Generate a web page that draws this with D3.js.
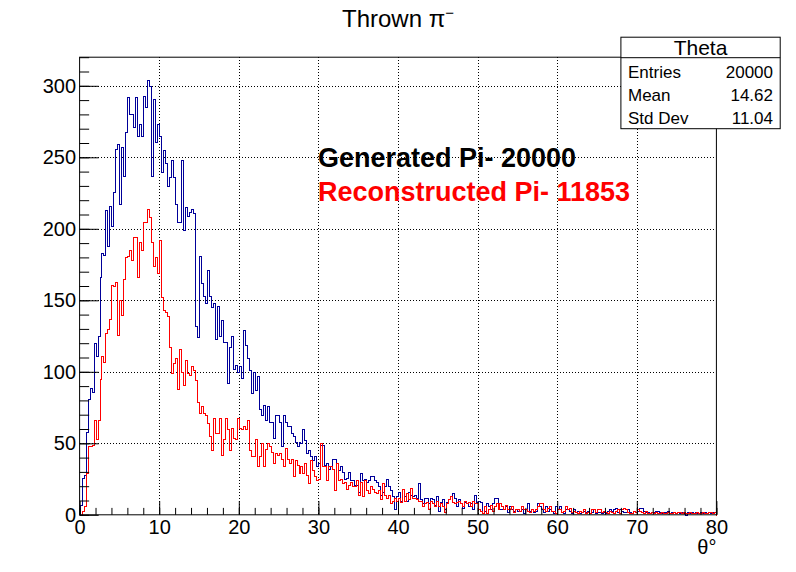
<!DOCTYPE html>
<html>
<head>
<meta charset="utf-8">
<script src="https://cdn.jsdelivr.net/npm/d3@7/dist/d3.min.js"></script>
<style>
  html, body { margin: 0; padding: 0; background: #fff; }
  svg { display: block; font-family: "Liberation Sans", Arial, Helvetica, sans-serif; }
</style>
</head>
<body>
<svg id="chart" width="796" height="572"></svg>
<script>
// ---------------- data ----------------
const thetaRange = [0, 80];
const nBins = 320;
const yRange = [0, 320];

const generated = [
  7, 26, 28, 58, 81, 89, 86, 120, 111, 125, 166, 183, 182, 213, 188, 216, 202, 226, 256, 259, 217, 257, 237, 268, 292, 280, 280, 271, 292, 265,
  273, 265, 293, 285, 304, 300, 237, 291, 261, 273, 265, 240, 255, 246, 230, 236, 248, 236, 217, 205, 205, 248, 199, 215, 209, 212, 214, 211,
  132, 124, 181, 162, 153, 148, 171, 153, 145, 148, 123, 146, 125, 136, 121, 121, 92, 117, 125, 102, 105, 100, 104, 96, 129, 119, 110, 101, 85,
  100, 87, 97, 74, 70, 77, 66, 76, 65, 65, 54, 70, 70, 65, 48, 70, 65, 62, 62, 57, 55, 51, 48, 51, 50, 60, 52, 43, 45, 41, 38, 41, 34, 36, 49, 49, 35, 36, 32,
  34, 39, 39, 36, 31, 34, 30, 25, 26, 30, 24, 24, 21, 21, 16, 29, 24, 25, 23, 24, 27, 27, 24, 23, 20, 14, 16, 20, 25, 20, 17, 13, 4, 13, 16, 10, 18, 13, 10, 16, 14, 13, 14, 12, 22,
  11, 8, 12, 12, 8, 12, 11, 7, 13, 3, 9, 11, 4, 9, 11, 13, 15, 12, 6, 11, 8, 5, 9, 8, 6, 8, 4, 14, 9, 10, 9, 1, 3, 8, 6, 4, 8, 12, 12, 8, 4, 4, 4, 6, 2, 6, 4, 3, 4, 3, 3, 4, 1, 4, 8, 3, 4, 2, 3, 8, 6, 4, 2, 6, 3, 4, 3, 1, 6, 4, 6, 2, 1, 4, 4,
  3, 1, 4, 2, 3, 1, 2, 3, 2, 3, 1, 2, 4, 1, 2, 2, 1, 2, 1, 3, 4, 3, 4, 5, 2, 4, 3, 2, 2, 4, 2, 1, 3, 2, 3, 5, 5, 3, 2, 2, 1, 2, 2, 3, 3, 2, 1, 2, 2, 3, 1, 2, 2, 1, 2, 1, 2, 1, 0, 2, 1, 2, 1, 2, 1, 1, 2, 1, 2, 1, 2, 1, 2, 2
];

const reconstructed = [
  0, 3, 6, 29, 48, 48, 49, 66, 53, 66, 95, 111, 107, 127, 130, 137, 161, 160, 163, 126, 150, 140, 165, 180, 181, 185, 178, 194, 194, 166,
  191, 185, 205, 205, 214, 208, 191, 174, 180, 169, 192, 152, 143, 142, 139, 117, 99, 106, 110, 88, 116, 100, 91, 108, 99, 98, 104,
  101, 94, 79, 71, 76, 71, 70, 64, 55, 45, 68, 57, 57, 68, 42, 53, 68, 60, 45, 61, 54, 53, 68, 61, 60, 62, 60, 66,
  45, 41, 41, 53, 34, 41, 50, 34, 46, 50, 48, 44, 36, 43, 42, 43, 39, 34, 47, 39, 36, 39, 27, 38, 35, 29, 34, 29, 36, 28, 22, 38, 31, 27, 24, 25, 50, 34, 34, 24, 34,
  34, 32, 17, 36, 24, 25, 22, 23, 18, 21, 23, 20, 20, 24, 14, 23, 13, 24, 17, 15, 20, 18, 16, 15, 17, 11, 22, 14, 12, 14, 8, 10, 12, 10, 12, 9, 18, 10, 15, 11, 19, 12, 12, 11, 10,
  10, 6, 8, 9, 4, 10, 8, 6, 10, 6, 8, 6, 2, 8, 11, 13, 9, 8, 9, 10, 8, 6, 10, 8, 9, 6, 10, 8, 8, 4, 3, 1, 6, 1, 4, 7, 3, 6, 8, 4, 8, 6, 4, 7, 4, 4, 6, 2, 4, 4, 3, 6, 4, 4, 3, 2, 4, 3, 4, 6, 8, 8, 4, 3, 5, 6, 3, 3, 1, 4, 4, 2, 3, 6, 4,
  5, 2, 3, 2, 1, 3, 2, 4, 1, 2, 1, 4, 4, 2, 4, 4, 2, 3, 2, 1, 3, 2, 1, 3, 4, 1, 4, 5, 4, 2, 1, 1, 3, 2, 4, 3, 2, 1, 3, 1, 1, 2, 1, 2, 1, 1, 2, 1, 1, 2, 1, 1, 2, 1, 2, 2, 1, 2, 1, 1, 2, 1, 1, 1, 2, 1, 1, 2, 1, 1, 2, 2, 1, 2
];

const xMajorTicks = [0, 10, 20, 30, 40, 50, 60, 70, 80];
const xMinorTicks = d3.range(0, 81, 2);
const yMajorTicks = [0, 50, 100, 150, 200, 250, 300];
const yMinorTicks = d3.range(0, 321, 10);

const titleMain = "Thrown π";
const titleSup = "−";
const xAxisTitle = "θ°";
const labelGenerated = "Generated Pi- 20000";
const labelReconstructed = "Reconstructed Pi- 11853";
const statsTitle = "Theta";
const statsNames = ["Entries", "Mean", "Std Dev"];
const statsValues = ["20000", "14.62", "11.04"];

// ---------------- layout ----------------
const W = 796, H = 572;
const frame = { left: 79.6, right: 716.4, top: 57.2, bottom: 514.8 };
const colGen = "#000099", colRec = "#ff0000";

const svg = d3.select("#chart");
svg.append("rect").attr("width", W).attr("height", H).attr("fill", "#fff");

const x = d3.scaleLinear().domain(thetaRange).range([frame.left, frame.right]);
const y = d3.scaleLinear().domain(yRange).range([frame.bottom, frame.top]);

const binW = (thetaRange[1] - thetaRange[0]) / nBins;

// grid
const grid = svg.append("g").attr("stroke", "#000").attr("stroke-width", 1).attr("stroke-dasharray", "1,2")
  .attr("shape-rendering", "crispEdges");
grid.selectAll("line.gx").data(xMajorTicks.filter(d => d > thetaRange[0] && d < thetaRange[1])).join("line")
  .attr("x1", d => Math.round(x(d)) + 0.5).attr("x2", d => Math.round(x(d)) + 0.5)
  .attr("y1", frame.top).attr("y2", frame.bottom);
grid.selectAll("line.gy").data(yMajorTicks.filter(d => d > yRange[0])).join("line")
  .attr("y1", d => Math.round(y(d)) + 0.5).attr("y2", d => Math.round(y(d)) + 0.5)
  .attr("x1", frame.left).attr("x2", frame.right);

// histograms
function stepPoints(vals) {
  const pts = [[thetaRange[0], 0]];
  vals.forEach((v, i) => pts.push([thetaRange[0] + i * binW, v]));
  pts.push([thetaRange[1], vals[vals.length - 1]]);
  pts.push([thetaRange[1], 0]);
  return pts;
}
const line = d3.line().x(d => Math.round(x(d[0])) + 0.5).y(d => Math.round(y(d[1])) + 0.5).curve(d3.curveStepAfter);

svg.append("path").datum(stepPoints(generated)).attr("d", line)
  .attr("fill", "none").attr("stroke", colGen).attr("stroke-width", 1.2).attr("shape-rendering", "crispEdges");
svg.append("path").datum(stepPoints(reconstructed)).attr("d", line)
  .attr("fill", "none").attr("stroke", colRec).attr("stroke-width", 1.2).attr("shape-rendering", "crispEdges");

// axes
const axisFont = 20;
svg.append("g").attr("transform", `translate(0,${frame.bottom})`)
  .call(d3.axisBottom(x).tickValues(xMajorTicks).tickSize(-13.7).tickPadding(5).tickFormat(d3.format("d")));
svg.append("g").attr("transform", `translate(0,${frame.bottom})`)
  .call(d3.axisBottom(x).tickValues(xMinorTicks).tickSize(-6.9).tickFormat(""));
svg.append("g").attr("transform", `translate(${frame.left},0)`)
  .call(d3.axisLeft(y).tickValues(yMajorTicks).tickSize(-19.1).tickPadding(3.5).tickFormat(d3.format("d")));
svg.append("g").attr("transform", `translate(${frame.left},0)`)
  .call(d3.axisLeft(y).tickValues(yMinorTicks).tickSize(-9.55).tickFormat(""));
svg.selectAll(".domain").remove();
svg.selectAll(".tick line").attr("stroke", "#000");
svg.selectAll(".tick text").attr("font-size", axisFont).attr("font-family", "Liberation Sans, Arial, sans-serif").attr("fill", "#000");

// frame
svg.append("rect").attr("x", frame.left).attr("y", frame.top)
  .attr("width", frame.right - frame.left).attr("height", frame.bottom - frame.top)
  .attr("fill", "none").attr("stroke", "#000").attr("stroke-width", 1);

// axis title
svg.append("text").attr("x", frame.right).attr("y", 554).attr("text-anchor", "end")
  .attr("font-size", 20).text(xAxisTitle);

// title
const t = svg.append("text").attr("x", 398).attr("y", 26.7).attr("text-anchor", "middle").attr("font-size", 24);
t.append("tspan").text(titleMain);
t.append("tspan").attr("dy", -9).attr("font-size", 15).text(titleSup);

// annotations
svg.append("text").attr("x", 318).attr("y", 167).attr("font-size", 27).attr("font-weight", "bold")
  .attr("fill", "#000").text(labelGenerated);
svg.append("text").attr("x", 318).attr("y", 201).attr("font-size", 27).attr("font-weight", "bold")
  .attr("fill", colRec).text(labelReconstructed);

// stats box
const sb = { x1: 620.9, x2: 780.2, y1: 37.2, y2: 128.7, hdr: 57.7 };
svg.append("rect").attr("x", sb.x1).attr("y", sb.y1).attr("width", sb.x2 - sb.x1).attr("height", sb.y2 - sb.y1)
  .attr("fill", "#fff").attr("stroke", "#000").attr("stroke-width", 1);
svg.append("line").attr("x1", sb.x1).attr("x2", sb.x2).attr("y1", sb.hdr).attr("y2", sb.hdr).attr("stroke", "#000");
svg.append("text").attr("x", (sb.x1 + sb.x2) / 2).attr("y", 55).attr("text-anchor", "middle")
  .attr("font-size", 21).text(statsTitle);
const rowY = [78, 101, 124];
statsNames.forEach((n, i) => {
  svg.append("text").attr("x", 628).attr("y", rowY[i]).attr("font-size", 17).text(n);
  svg.append("text").attr("x", 773).attr("y", rowY[i]).attr("text-anchor", "end").attr("font-size", 17).text(statsValues[i]);
});
</script>
</body>
</html>
